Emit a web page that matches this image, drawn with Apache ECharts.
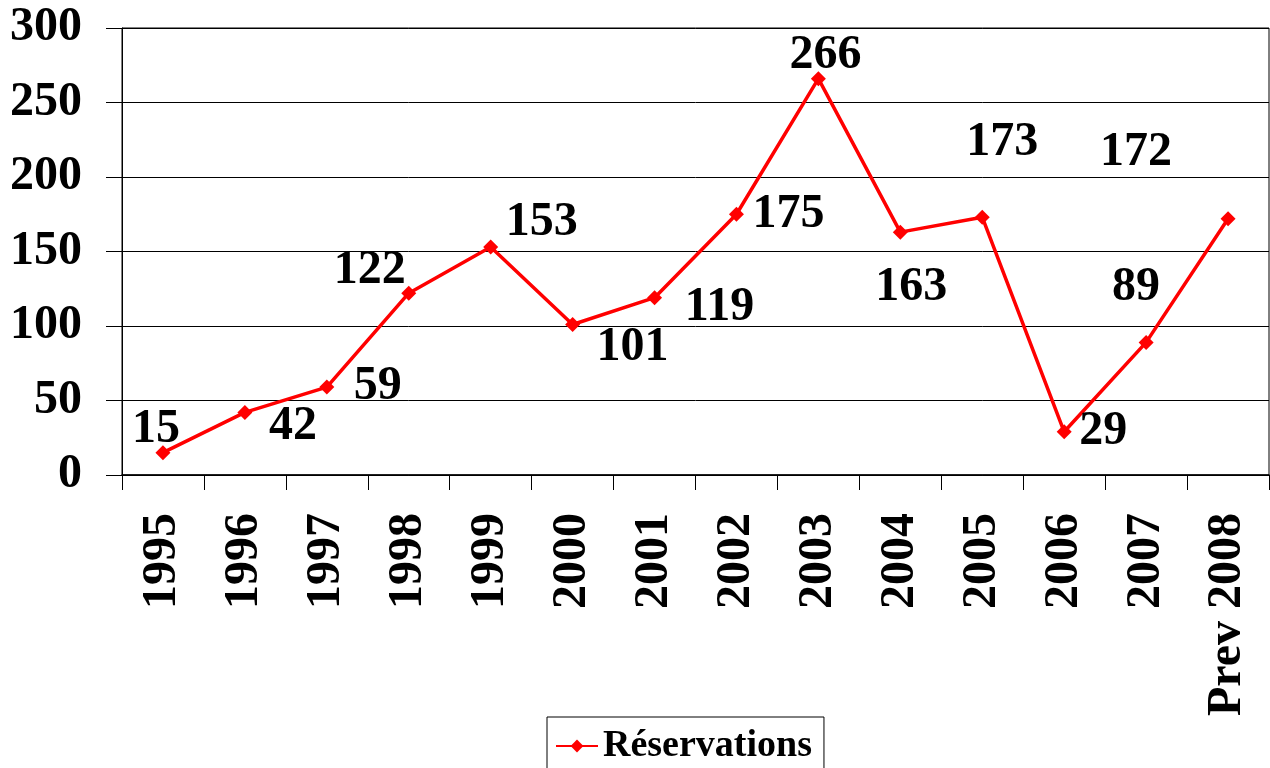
<!DOCTYPE html>
<html>
<head>
<meta charset="utf-8">
<script src="https://cdn.jsdelivr.net/npm/echarts@6/dist/echarts.min.js"></script>
<style>
  html, body { margin: 0; padding: 0; background: #fff; }
  #chart { width: 1270px; height: 768px; }
</style>
</head>
<body>
<div id="chart"></div>
<script>
// données
var years = ['1995', '1996', '1997', '1998', '1999', '2000', '2001', '2002',
  '2003', '2004', '2005', '2006', '2007', 'Prev 2008']
var reservations = [15, 42, 59, 122, 153, 101, 119, 175, 266, 163, 173, 29, 89, 172]
var yTicks = [0, 50, 100, 150, 200, 250, 300]

// décalage des étiquettes (px) par rapport au point
var labelOffsets = [
  [-7, -23], [48, 14], [51, 0], [-39, -23], [51, -24], [60, 23], [65, 10],
  [52, 0], [7, -23], [11, 55], [20, -75], [39, 0], [-10, -55], [-92, -66]
]

var font = 'Liberation Serif, Times New Roman, serif'

var chart = echarts.init(document.getElementById('chart'))
chart.setOption({
  backgroundColor: '#fff',
  animation: false,
  grid: {
    left: 122,
    right: 1,
    top: 28,
    bottom: 293,
    show: true,
    borderColor: '#000',
    borderWidth: 1
  },
  legend: {
    left: 547,
    top: 717,
    padding: [10, 12, 10, 8],
    borderColor: '#000',
    borderWidth: 1,
    itemWidth: 42,
    itemHeight: 16,
    textStyle: {
      fontFamily: font,
      fontWeight: 'bold',
      fontSize: 38,
      color: '#000'
    },
    data: ['Réservations']
  },
  xAxis: {
    type: 'category',
    data: years,
    boundaryGap: true,
    axisLine: { lineStyle: { color: '#000', width: 1.5 } },
    axisTick: { show: true, length: 15, lineStyle: { color: '#000' } },
    axisLabel: {
      rotate: 90,
      margin: 38,
      fontFamily: font,
      fontWeight: 'bold',
      fontSize: 48,
      color: '#000'
    }
  },
  yAxis: {
    type: 'value',
    min: yTicks[0],
    max: yTicks[yTicks.length - 1],
    interval: yTicks[1] - yTicks[0],
    axisLine: { show: true, lineStyle: { color: '#000' } },
    axisTick: { show: true, length: 16, lineStyle: { color: '#000' } },
    splitLine: { lineStyle: { color: '#000', width: 1 } },
    axisLabel: {
      margin: 40,
      fontFamily: font,
      fontWeight: 'bold',
      fontSize: 48,
      color: '#000'
    }
  },
  series: [
    {
      name: 'Réservations',
      type: 'line',
      symbol: 'diamond',
      symbolSize: 15,
      lineStyle: { color: '#ff0000', width: 3.5 },
      itemStyle: { color: '#ff0000' },
      label: {
        show: true,
        position: 'inside',
        align: 'center',
        verticalAlign: 'middle',
        fontFamily: font,
        fontWeight: 'bold',
        fontSize: 48,
        color: '#000'
      },
      data: reservations.map(function (v, i) {
        return { value: v, label: { offset: labelOffsets[i] } }
      })
    }
  ]
})
</script>
</body>
</html>
